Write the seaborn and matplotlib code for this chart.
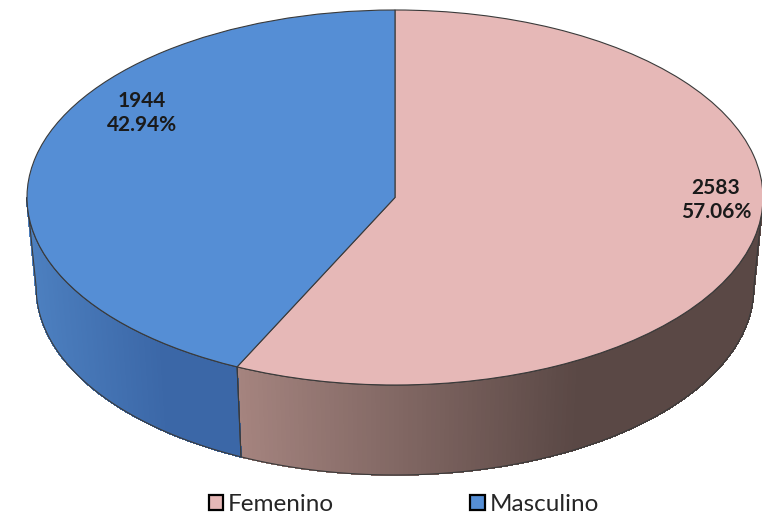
import numpy as np
import seaborn as sns
import matplotlib.pyplot as plt
from matplotlib.collections import PolyCollection
from matplotlib.patches import Patch, Polygon
from matplotlib.colors import to_rgb

# data
categories = ["Femenino", "Masculino"]
counts = [2583, 1944]
percents = [57.06, 42.94]

top_colors = ["#e6b8b7", "#558ed5"]
# side wall gradient (light end, dark end)
side_colors = [("#a5847f", "#5a4845"), ("#4d80c0", "#3b67a7")]

sns.set_theme(style="white")
plt.rcParams["font.family"] = ["Lato", "DejaVu Sans"]

DEPTH = 0.48      # thickness of the pie, in radius units
SHRINK = 0.975    # bottom rim slightly narrower (perspective)

fig = plt.figure(figsize=(7.62, 5.16), dpi=100)
ax = fig.add_axes([0, 0, 1, 1])

wedges, _ = ax.pie(
    counts,
    colors=top_colors,
    startangle=90,
    counterclock=False,
    radius=1,
    center=(0, 0),
    wedgeprops=dict(edgecolor="#3a3a3a", linewidth=0.8, zorder=3),
)


def visible_span(t1, t2):
    # front half of the rim is between 180 and 360 degrees
    for lo, hi in [(-180, 0), (180, 360), (-540, -360)]:
        a, b = max(t1, lo), min(t2, hi)
        if b > a:
            return a, b
    return None


def lerp(c1, c2, t):
    c1, c2 = np.array(to_rgb(c1)), np.array(to_rgb(c2))
    return tuple(c1 + (c2 - c1) * t)


for w, (light, dark) in zip(wedges, side_colors):
    span = visible_span(w.theta1, w.theta2)
    if span is None:
        continue
    ang = np.radians(np.linspace(span[0], span[1], 160))
    quads, cols = [], []
    xs = np.cos(ang)
    x0, x1 = xs.min(), xs.max()
    for i in range(len(ang) - 1):
        a0, a1 = ang[i], ang[i + 1]
        quads.append([
            (np.cos(a0), np.sin(a0)),
            (np.cos(a1), np.sin(a1)),
            (SHRINK * np.cos(a1), np.sin(a1) - DEPTH),
            (SHRINK * np.cos(a0), np.sin(a0) - DEPTH),
        ])
        xm = (np.cos(a0) + np.cos(a1)) / 2
        t = np.clip((xm - x0) / ((x1 - x0) * 0.65), 0, 1)
        cols.append(lerp(light, dark, t))
    pc = PolyCollection(quads, facecolors=cols, edgecolors=cols, linewidths=0.6,
                        antialiaseds=False, zorder=2)
    ax.add_collection(pc)
    outline = np.vstack([
        np.column_stack([np.cos(ang), np.sin(ang)]),
        np.column_stack([SHRINK * np.cos(ang[::-1]), np.sin(ang[::-1]) - DEPTH]),
    ])
    ax.add_patch(Polygon(outline, closed=True, fill=False, edgecolor="#3a3a3a",
                         linewidth=0.8, zorder=2.5))

# squash the circle into the ellipse of the 3-D view
ax.set_aspect("auto")
ax.set_xlim(-1.0733, 0.9973)
ax.set_ylim(-1.6987, 1.0533)
ax.axis("off")

label_pos = [(0.872, -0.013), (-0.687, 0.451)]
for (x, y), n, p in zip(label_pos, counts, percents):
    ax.text(x, y, f"{n}\n{p:.2f}%", ha="center", va="center", fontsize=15,
            fontweight="bold", color="#1a1a1a", linespacing=1.25, zorder=5)

handles = [Patch(facecolor=c, edgecolor="black", linewidth=1.6) for c in top_colors]
fig.legend(handles, categories, loc="center", bbox_to_anchor=(0.53, 0.022), ncol=2,
           frameon=False, fontsize=17.5, handlelength=0.6, handleheight=0.6,
           handletextpad=0.2, columnspacing=5.6)

plt.savefig("out.png", dpi=100)
